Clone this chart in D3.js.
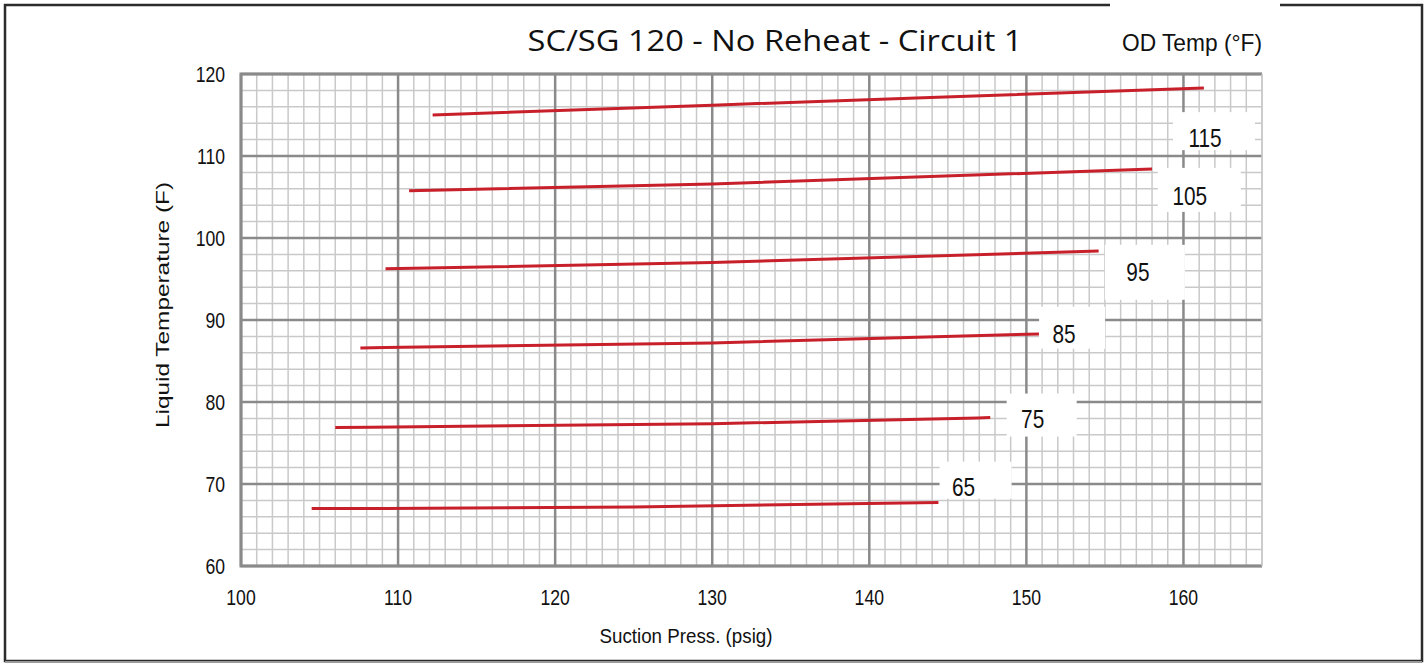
<!DOCTYPE html>
<html>
<head>
<meta charset="utf-8">
<script src="https://cdn.jsdelivr.net/npm/d3@7"></script>
<style>
  html, body { margin: 0; padding: 0; background: #fff; }
  svg { display: block; }
</style>
</head>
<body>
<svg id="chart" width="1427" height="664"></svg>
<script>
// Outdoor temperature curves (°F): suction pressure (psig) vs liquid temperature (F)
const odTemps = [115, 105, 95, 85, 75, 65];
const pressures = [
  [112.2, 130, 161.3],
  [110.7, 130, 158.0],
  [109.2, 130, 154.6],
  [107.6, 130, 150.8],
  [106.0, 130, 147.7],
  [104.5, 125, 144.4]
];
const liquidTemps = [
  [115.0, 116.2, 118.3],
  [105.75, 106.6, 108.4],
  [96.25, 97.0, 98.4],
  [86.6, 87.2, 88.3],
  [76.9, 77.35, 78.1],
  [67.0, 67.2, 67.75]
];
// where each curve's OD temperature label sits (pressure, temperature)
const labelPress = [161.37, 160.4, 157.1, 152.4, 150.4, 146.0];
const labelTemp  = [112.3, 105.26, 96.0, 88.45, 78.1, 69.8];

const xTicks = [100, 110, 120, 130, 140, 150, 160];
const yTicks = [60, 70, 80, 90, 100, 110, 120];

const svg = d3.select("#chart");
const W = 1427, H = 664;
const plot = { left: 241, top: 74, right: 1262, bottom: 566 };
const FONT = "Liberation Sans, Arial, sans-serif";

const x = d3.scaleLinear().domain([100, 165]).range([plot.left, plot.right]);
const y = d3.scaleLinear().domain([60, 120]).range([plot.bottom, plot.top]);

// squeeze text horizontally to the narrow face used on the sheet
function condense(sel, k) {
  sel.each(function () {
    const len = this.getComputedTextLength();
    d3.select(this).attr("textLength", len * k).attr("lengthAdjust", "spacingAndGlyphs");
  });
  return sel;
}

// outer frame
svg.append("rect").attr("x", 5).attr("y", 5).attr("width", W - 10).attr("height", H - 8)
  .attr("fill", "#fff").attr("stroke", "#2b2b2b").attr("stroke-width", 2.5);
svg.append("line").attr("x1", 5).attr("x2", W - 5).attr("y1", 662).attr("y2", 662)
  .attr("stroke", "#9a9a9a").attr("stroke-width", 2);

const g = svg.append("g");

// minor grid
const minorX = d3.range(100, 166, 1).filter(v => v % 10 !== 0);
const minorY = d3.range(60, 121, 2).filter(v => v % 10 !== 0);
g.selectAll(".mx").data(minorX).join("line")
  .attr("x1", d => x(d)).attr("x2", d => x(d)).attr("y1", plot.top).attr("y2", plot.bottom)
  .attr("stroke", "#c9c9c9").attr("stroke-width", 1.5);
g.selectAll(".my").data(minorY).join("line")
  .attr("x1", plot.left).attr("x2", plot.right).attr("y1", d => y(d)).attr("y2", d => y(d))
  .attr("stroke", "#c9c9c9").attr("stroke-width", 1.5);

// major grid
g.selectAll(".Mx").data(xTicks).join("line")
  .attr("x1", d => x(d)).attr("x2", d => x(d)).attr("y1", plot.top).attr("y2", plot.bottom)
  .attr("stroke", "#8a8a8a").attr("stroke-width", 2.5);
g.selectAll(".My").data(yTicks).join("line")
  .attr("x1", plot.left).attr("x2", plot.right).attr("y1", d => y(d)).attr("y2", d => y(d))
  .attr("stroke", "#8a8a8a").attr("stroke-width", 2.5);

// plot border (left, top, bottom)
g.append("path")
  .attr("d", `M${plot.right},${plot.top}H${plot.left}V${plot.bottom}H${plot.right}`)
  .attr("fill", "none").attr("stroke", "#8a8a8a").attr("stroke-width", 3);
g.append("line").attr("x1", plot.right).attr("x2", plot.right)
  .attr("y1", plot.top).attr("y2", plot.bottom)
  .attr("stroke", "#c9c9c9").attr("stroke-width", 1.5);

// curves
const line = d3.line().curve(d3.curveMonotoneX);
odTemps.forEach((t, i) => {
  const pts = pressures[i].map((p, j) => [x(p), y(liquidTemps[i][j])]);
  svg.append("path").attr("d", line(pts))
    .attr("fill", "none").attr("stroke", "#c8202b").attr("stroke-width", 3)
    .attr("stroke-linecap", "butt");
});

// curve labels on white boxes: [left offset, width, top offset, height] around label centre
const boxes = [
  [-32, 82, -25, 38],
  [-32, 83, -27, 44],
  [-33, 80, -26, 55],
  [-25, 66, -26, 42],
  [-26, 70, -24, 43],
  [-24, 72, -24, 37]
];
odTemps.forEach((t, i) => {
  const cx = x(labelPress[i]), cy = y(labelTemp[i]);
  const b = boxes[i];
  svg.append("rect").attr("x", cx + b[0]).attr("y", cy + b[2])
    .attr("width", b[1]).attr("height", b[3]).attr("fill", "#fff");
  condense(svg.append("text").attr("x", cx).attr("y", cy + 10)
    .attr("text-anchor", "middle")
    .attr("font-family", FONT)
    .attr("font-size", 26).attr("fill", "#111").text(t), 0.8);
});

// tick labels
condense(svg.selectAll(".xt").data(xTicks).join("text")
  .attr("x", d => x(d)).attr("y", 605).attr("text-anchor", "middle")
  .attr("font-family", FONT).attr("font-size", 22)
  .attr("fill", "#111").text(d => d), 0.8);
condense(svg.selectAll(".yt").data(yTicks).join("text")
  .attr("x", 225).attr("y", d => y(d) + 8).attr("text-anchor", "end")
  .attr("font-family", FONT).attr("font-size", 22)
  .attr("fill", "#111").text(d => d), 0.8);

// axis titles
svg.append("text").attr("x", 686).attr("y", 643).attr("text-anchor", "middle")
  .attr("font-family", FONT).attr("font-size", 20)
  .attr("fill", "#111").attr("textLength", 173).attr("lengthAdjust", "spacingAndGlyphs")
  .text("Suction Press. (psig)");
svg.append("text")
  .attr("transform", "translate(169,305) rotate(-90)")
  .attr("text-anchor", "middle")
  .attr("font-family", FONT).attr("font-size", 18)
  .attr("fill", "#111").attr("textLength", 246).attr("lengthAdjust", "spacingAndGlyphs")
  .text("Liquid Temperature (F)");

// legend heading box (breaks the frame)
svg.append("rect").attr("x", 1110).attr("y", 0).attr("width", 170).attr("height", 68).attr("fill", "#fff");
svg.append("text").attr("x", 1122).attr("y", 51)
  .attr("font-family", FONT).attr("font-size", 24)
  .attr("fill", "#111").attr("textLength", 140).attr("lengthAdjust", "spacingAndGlyphs")
  .text("OD Temp (°F)");

// title
svg.append("text").attr("x", 775).attr("y", 51).attr("text-anchor", "middle")
  .attr("font-family", "Open Sans, Noto Sans, sans-serif").attr("font-size", 29)
  .attr("fill", "#111").attr("textLength", 495).attr("lengthAdjust", "spacingAndGlyphs")
  .text("SC/SG 120 - No Reheat - Circuit 1");
</script>
</body>
</html>
